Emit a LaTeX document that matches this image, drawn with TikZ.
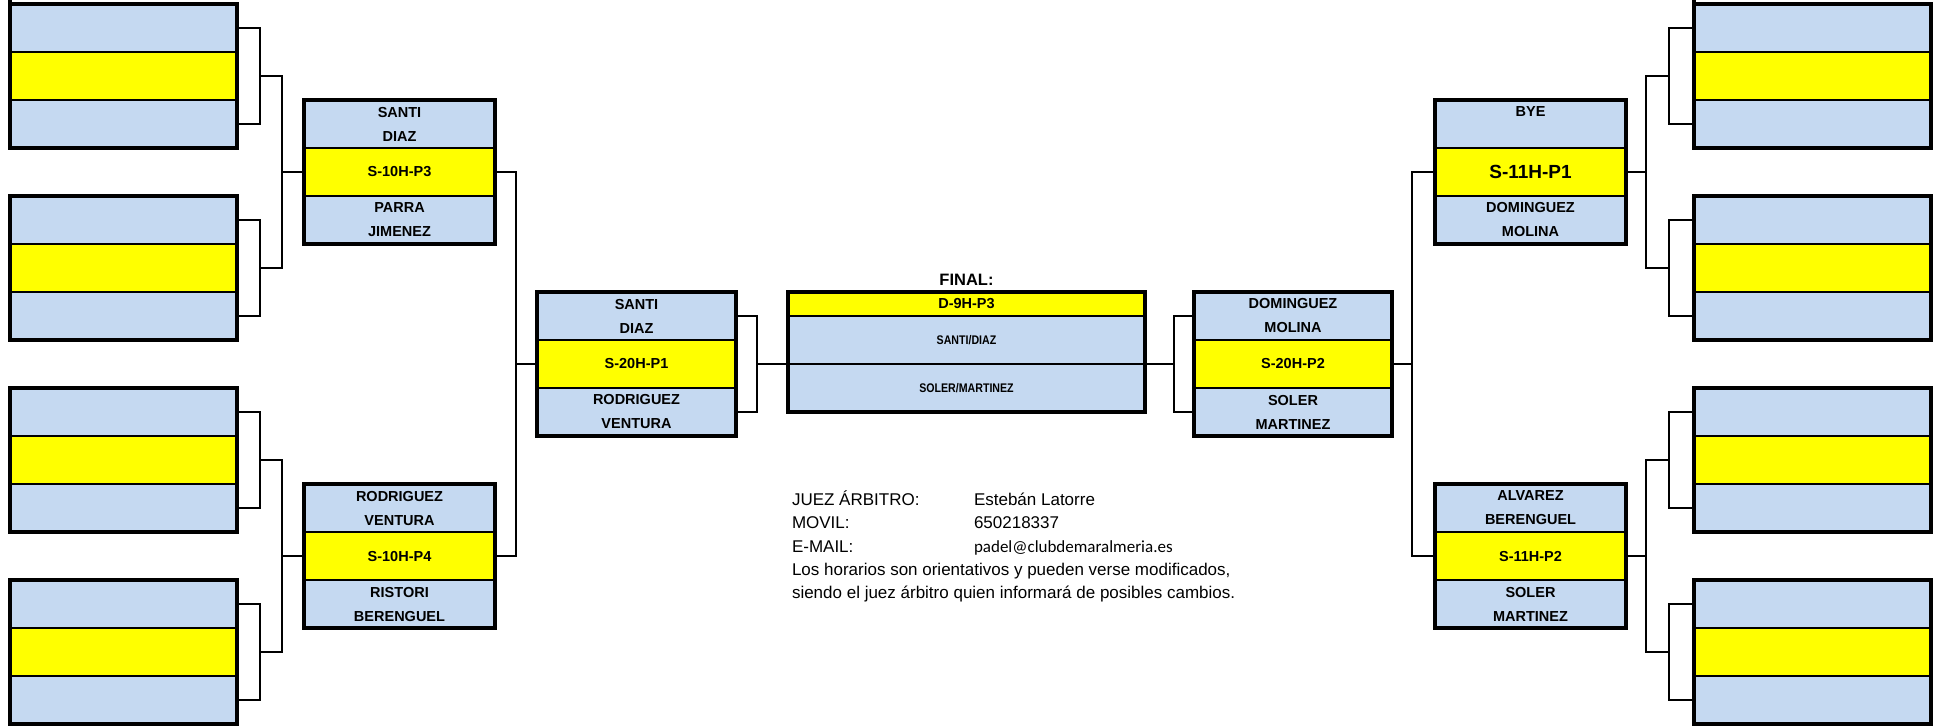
\documentclass[tikz,border=0pt]{standalone}
\usepackage{fontspec}
\usepackage{graphicx}
\setmainfont{Liberation Sans}
\newfontfamily\calibrifont{Carlito}
\usetikzlibrary{fit}
\definecolor{cellblue}{HTML}{C5D9F1}
\definecolor{cellyellow}{HTML}{FFFF00}
\tikzset{
  cellbase/.style={draw=black, line width=2.4pt, inner sep=0pt, outer sep=0pt,
    align=center, font=\fontsize{14.5}{24}\selectfont\bfseries},
  cellb/.style={cellbase, fill=cellblue, minimum height=48pt},
  celly/.style={cellbase, fill=cellyellow, minimum height=48pt},
  frame/.style={draw=black, line width=3.2pt, inner sep=0pt, outer sep=0pt},
  conn/.style={draw=black, line width=1.5pt},
  info/.style={inner sep=0pt, outer sep=0pt, font=\fontsize{17}{20}\selectfont},
}
\newcommand{\matchbox}[7]{%
  \node[cellb, minimum width=#4, anchor=north west] (#1-t) at (#2,-#3) {#5};
  \node[celly, minimum width=#4, anchor=north] (#1-m) at (#1-t.south) {#6};
  \node[cellb, minimum width=#4, anchor=north] (#1-b) at (#1-m.south) {#7};
  \node[frame, fit=(#1-t)(#1-b)] (#1) {};
}
\newcommand{\narrowtext}[1]{\scalebox{0.85}[1]{\fontsize{12.5}{15}\selectfont\bfseries #1}}
\begin{document}
\begin{tikzpicture}[x=1pt,y=1pt]
\useasboundingbox (0,0) rectangle (1937,-726);

% ---------- left first round (empty) ----------
\matchbox{L1a}{10}{4}{227pt}{}{}{}
\matchbox{L1b}{10}{196}{227pt}{}{}{}
\matchbox{L1c}{10}{388}{227pt}{}{}{}
\matchbox{L1d}{10}{580}{227pt}{}{}{}
\draw[frame] (L1a.north west) -- ++(0,4);

% ---------- left second round ----------
\matchbox{L2a}{304}{100}{191pt}{SANTI\\DIAZ}{S-10H-P3}{PARRA\\JIMENEZ}
\matchbox{L2b}{304}{484}{191pt}{RODRIGUEZ\\VENTURA}{S-10H-P4}{RISTORI\\BERENGUEL}

% ---------- left semi ----------
\matchbox{L3}{537}{292}{199pt}{SANTI\\DIAZ}{S-20H-P1}{RODRIGUEZ\\VENTURA}

% ---------- final ----------
\node[font=\fontsize{16.5}{20}\selectfont\bfseries, inner sep=0pt, anchor=base] (ftitle) at (966.5,-285) {FINAL:};
\node[celly, minimum width=357pt, minimum height=24pt, anchor=north west] (F-y) at (788,-292) {D-9H-P3};
\node[cellb, minimum width=357pt, anchor=north] (F-1) at (F-y.south) {\narrowtext{SANTI/DIAZ}};
\node[cellb, minimum width=357pt, anchor=north] (F-2) at (F-1.south) {\narrowtext{SOLER/MARTINEZ}};
\node[frame, fit=(F-y)(F-2)] (F) {};

% ---------- right semi ----------
\matchbox{R3}{1194}{292}{198pt}{DOMINGUEZ\\MOLINA}{S-20H-P2}{SOLER\\MARTINEZ}

% ---------- right second round ----------
\matchbox{R2a}{1435}{100}{191pt}{BYE\\\mbox{}}{\fontsize{19}{24}\selectfont S-11H-P1}{DOMINGUEZ\\MOLINA}
\matchbox{R2b}{1435}{484}{191pt}{ALVAREZ\\BERENGUEL}{S-11H-P2}{SOLER\\MARTINEZ}

% ---------- right first round (empty) ----------
\matchbox{R1a}{1694}{4}{237pt}{}{}{}
\matchbox{R1b}{1694}{196}{237pt}{}{}{}
\matchbox{R1c}{1694}{388}{237pt}{}{}{}
\matchbox{R1d}{1694}{580}{237pt}{}{}{}
\draw[frame] (R1a.north west) -- ++(0,4);

% ---------- junction coordinates ----------
\coordinate (jA) at (260,-76);
\coordinate (jB) at (260,-268);
\coordinate (jC) at (260,-460);
\coordinate (jD) at (260,-652);
\coordinate (kAB) at (282,-172);
\coordinate (kCD) at (282,-556);
\coordinate (mL) at (516,-364);
\coordinate (nL) at (757,-364);
\coordinate (nR) at (1174,-364);
\coordinate (mR) at (1412,-364);
\coordinate (kRAB) at (1646,-172);
\coordinate (kRCD) at (1646,-556);
\coordinate (jRA) at (1669,-76);
\coordinate (jRB) at (1669,-268);
\coordinate (jRC) at (1669,-460);
\coordinate (jRD) at (1669,-652);

% ---------- left connectors ----------
\draw[conn] (L1a-t.east) -| (jA) |- (L1a-b.east);
\draw[conn] (L1b-t.east) -| (jB) |- (L1b-b.east);
\draw[conn] (L1c-t.east) -| (jC) |- (L1c-b.east);
\draw[conn] (L1d-t.east) -| (jD) |- (L1d-b.east);
\draw[conn] (jA) -| (kAB) |- (jB);
\draw[conn] (jC) -| (kCD) |- (jD);
\draw[conn] (kAB) -- (L2a-m.west);
\draw[conn] (kCD) -- (L2b-m.west);
\draw[conn] (L2a-m.east) -| (mL) |- (L2b-m.east);
\draw[conn] (mL) -- (L3-m.west);
\draw[conn] (L3-t.east) -| (nL) |- (L3-b.east);
\draw[conn] (nL) -- (F-1.south west);

% ---------- right connectors ----------
\draw[conn] (F-1.south east) -- (nR);
\draw[conn] (R3-t.west) -| (nR) |- (R3-b.west);
\draw[conn] (R3-m.east) -- (mR);
\draw[conn] (R2a-m.west) -| (mR) |- (R2b-m.west);
\draw[conn] (R2a-m.east) -- (kRAB);
\draw[conn] (R2b-m.east) -- (kRCD);
\draw[conn] (jRA) -| (kRAB) |- (jRB);
\draw[conn] (jRC) -| (kRCD) |- (jRD);
\draw[conn] (R1a-t.west) -| (jRA) |- (R1a-b.west);
\draw[conn] (R1b-t.west) -| (jRB) |- (R1b-b.west);
\draw[conn] (R1c-t.west) -| (jRC) |- (R1c-b.west);
\draw[conn] (R1d-t.west) -| (jRD) |- (R1d-b.west);

% ---------- referee info ----------
\node[info, anchor=base west] (i1) at (792,-505) {JUEZ ÁRBITRO:};
\node[info, anchor=base west] (i1v) at (974,-505) {Estebán Latorre};
\node[info, anchor=base west] (i2) at (792,-528) {MOVIL:};
\node[info, anchor=base west] (i2v) at (974,-528) {650218337};
\node[info, anchor=base west] (i3) at (792,-552) {E-MAIL:};
\node[info, anchor=base west, font=\calibrifont\fontsize{17}{20}\selectfont] (i3v) at (974,-552) {padel@clubdemaralmeria.es};
\node[info, anchor=base west] (i4) at (792,-575) {Los horarios son orientativos y pueden verse modificados,};
\node[info, anchor=base west] (i5) at (792,-598) {siendo el juez árbitro quien informará de posibles cambios.};
\end{tikzpicture}
\end{document}
